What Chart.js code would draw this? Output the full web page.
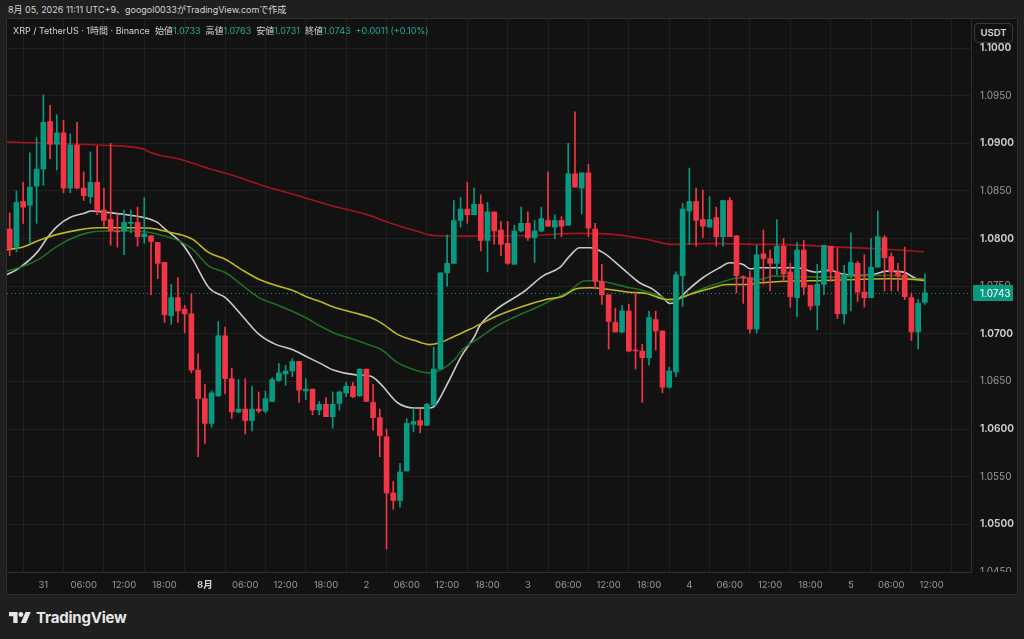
<!DOCTYPE html>
<html>
<head>
<meta charset="utf-8">
<script src="https://cdn.jsdelivr.net/npm/chart.js@4.4.1/dist/chart.umd.min.js"></script>
<style>
  html, body { margin: 0; padding: 0; background: #1f1f1f; width: 1024px; height: 639px; overflow: hidden;
    font-family: Inter, "Noto Sans CJK JP", sans-serif; }
  #credit { position: absolute; left: 8px; top: 3px; font-size: 9px; line-height: 14px; color: #d1d4dc; }
  #panel { position: absolute; left: 6px; top: 18px; width: 1010px; height: 575px; border: 1px solid #2e2e2e; background: #121212; }
  #c { position: absolute; left: 0; top: 0; }
  #legend { position: absolute; left: 6px; top: 5px; font-size: 9px; line-height: 14px; color: #d1d4dc; white-space: pre; }
  #legend .v { color: #22ab94; }
  #unit { position: absolute; left: 967px; top: 4px; width: 37px; height: 18px; border: 1px solid #3a3a3a; border-radius: 4px;
    font-size: 9.5px; font-weight: 600; color: #d1d4dc; text-align: center; line-height: 18px; background: #121212; }
  #brand { position: absolute; left: 9px; top: 606px; height: 22px; display: flex; align-items: center; }
  #brand span { margin-left: 5px; font-size: 15px; font-weight: 700; color: #e6e6e6; letter-spacing: -0.2px; }
</style>
</head>
<body>
<div id="credit">8月 05, 2026 11:11 UTC+9、googol0033がTradingView.comで作成</div>
<div id="panel">
  <canvas id="c" width="1010" height="575"></canvas>
  <div id="legend">XRP / TetherUS · 1時間 · Binance  始値<span class="v">1.0733</span>  高値<span class="v">1.0763</span>  安値<span class="v">1.0731</span>  終値<span class="v">1.0743</span>  <span class="v">+0.0011 (+0.10%)</span></div>
  <div id="unit">USDT</div>
</div>
<div id="brand">
  <svg width="22" height="11" viewBox="0 4 36 18"><path d="M14 22H7V11H0V4h14v18z" fill="#e6e6e6"/><circle cx="19.5" cy="8" r="4" fill="#e6e6e6"/><path d="M28 22h-8.5l7.5-18h8.5L28 22z" fill="#e6e6e6"/></svg>
  <span>TradingView</span>
</div>
<script>
// 1h candles, 30th 19:00 -> 5th 11:00
const opens = [1.0810,1.0791,1.0839,1.0835,1.0855,1.0873,1.0923,1.0899,1.0911,1.0853,1.0898,1.0853,1.0844,1.0859,1.0830,1.0820,1.0808,1.0808,1.0816,1.0817,
  1.0802,1.0803,1.0796,1.0775,1.0719,1.0738,1.0726,1.0721,1.0662,1.0632,1.0606,1.0635,1.0698,1.0653,1.0618,1.0621,1.0609,1.0621,1.0619,1.0629,
  1.0651,1.0658,1.0661,1.0671,1.0640,1.0642,1.0620,1.0626,1.0613,1.0627,1.0638,1.0645,1.0635,1.0663,1.0628,1.0612,1.0592,1.0533,1.0525,1.0556,
  1.0605,1.0609,1.0604,1.0625,1.0663,1.0764,1.0774,1.0819,1.0831,1.0825,1.0836,1.0798,1.0828,1.0809,1.0795,1.0773,1.0808,1.0816,1.0801,1.0808,
  1.0819,1.0812,1.0819,1.0814,1.0868,1.0853,1.0869,1.0810,1.0755,1.0741,1.0712,1.0702,1.0724,1.0683,1.0682,1.0675,1.0715,1.0703,1.0644,1.0660,
  1.0761,1.0829,1.0839,1.0820,1.0812,1.0822,1.0802,1.0840,1.0803,1.0760,1.0759,1.0705,1.0784,1.0779,1.0774,1.0792,1.0765,1.0738,1.0788,1.0751,
  1.0730,1.0752,1.0792,1.0765,1.0721,1.0761,1.0774,1.0744,1.0738,1.0770,1.0801,1.0781,1.0765,1.0762,1.0738,1.0702,1.0733];
const highs = [1.0827,1.0850,1.0859,1.0890,1.0906,1.0951,1.0940,1.0930,1.0924,1.0910,1.0922,1.0870,1.0891,1.0897,1.0853,1.0900,1.0826,1.0830,1.0830,1.0833,
  1.0843,1.0803,1.0796,1.0775,1.0752,1.0759,1.0730,1.0742,1.0679,1.0647,1.0640,1.0713,1.0707,1.0664,1.0652,1.0653,1.0645,1.0639,1.0640,1.0654,
  1.0669,1.0667,1.0674,1.0671,1.0653,1.0642,1.0629,1.0633,1.0639,1.0640,1.0649,1.0649,1.0663,1.0663,1.0647,1.0621,1.0600,1.0545,1.0564,1.0611,
  1.0622,1.0621,1.0627,1.0686,1.0764,1.0804,1.0840,1.0843,1.0859,1.0853,1.0846,1.0838,1.0828,1.0818,1.0818,1.0814,1.0833,1.0828,1.0819,1.0833,
  1.0870,1.0825,1.0823,1.0900,1.0933,1.0869,1.0878,1.0816,1.0773,1.0741,1.0727,1.0730,1.0731,1.0744,1.0689,1.0724,1.0724,1.0703,1.0665,1.0765,
  1.0837,1.0874,1.0853,1.0851,1.0844,1.0833,1.0840,1.0843,1.0803,1.0761,1.0766,1.0793,1.0809,1.0788,1.0820,1.0800,1.0774,1.0796,1.0798,1.0751,
  1.0773,1.0793,1.0792,1.0790,1.0772,1.0806,1.0776,1.0783,1.0800,1.0829,1.0803,1.0785,1.0774,1.0791,1.0743,1.0736,1.0763];
const lows = [1.0782,1.0786,1.0816,1.0795,1.0816,1.0856,1.0884,1.0872,1.0848,1.0848,1.0852,1.0840,1.0837,1.0825,1.0813,1.0793,1.0791,1.0783,1.0806,1.0792,
  1.0795,1.0741,1.0758,1.0712,1.0710,1.0712,1.0701,1.0659,1.0571,1.0585,1.0602,1.0634,1.0637,1.0611,1.0617,1.0595,1.0598,1.0617,1.0617,1.0629,
  1.0650,1.0646,1.0655,1.0628,1.0631,1.0615,1.0615,1.0613,1.0601,1.0620,1.0634,1.0633,1.0634,1.0629,1.0599,1.0571,1.0474,1.0516,1.0518,1.0556,
  1.0597,1.0596,1.0604,1.0625,1.0663,1.0750,1.0774,1.0812,1.0816,1.0825,1.0787,1.0765,1.0794,1.0782,1.0773,1.0773,1.0807,1.0798,1.0775,1.0807,
  1.0813,1.0800,1.0802,1.0814,1.0854,1.0826,1.0802,1.0748,1.0731,1.0684,1.0702,1.0701,1.0681,1.0663,1.0628,1.0667,1.0683,1.0638,1.0643,1.0655,
  1.0729,1.0794,1.0792,1.0801,1.0812,1.0792,1.0792,1.0802,1.0743,1.0732,1.0701,1.0701,1.0752,1.0745,1.0762,1.0755,1.0728,1.0718,1.0741,1.0725,
  1.0704,1.0741,1.0755,1.0716,1.0711,1.0724,1.0734,1.0728,1.0738,1.0770,1.0745,1.0745,1.0745,1.0736,1.0693,1.0684,1.0731];
const closes = [1.0790,1.0838,1.0833,1.0854,1.0873,1.0922,1.0899,1.0911,1.0853,1.0898,1.0853,1.0845,1.0859,1.0829,1.0819,1.0808,1.0807,1.0817,1.0817,1.0802,
  1.0805,1.0797,1.0774,1.0720,1.0738,1.0724,1.0721,1.0662,1.0632,1.0606,1.0638,1.0698,1.0653,1.0618,1.0621,1.0609,1.0621,1.0619,1.0632,1.0652,
  1.0659,1.0661,1.0671,1.0641,1.0642,1.0620,1.0626,1.0613,1.0626,1.0639,1.0645,1.0634,1.0663,1.0629,1.0612,1.0593,1.0533,1.0525,1.0555,1.0606,
  1.0608,1.0604,1.0626,1.0663,1.0764,1.0774,1.0819,1.0831,1.0825,1.0836,1.0798,1.0828,1.0808,1.0794,1.0774,1.0808,1.0816,1.0801,1.0808,1.0821,
  1.0813,1.0819,1.0813,1.0868,1.0854,1.0869,1.0811,1.0755,1.0741,1.0713,1.0702,1.0724,1.0682,1.0682,1.0675,1.0717,1.0703,1.0644,1.0661,1.0762,
  1.0831,1.0839,1.0819,1.0813,1.0820,1.0802,1.0840,1.0802,1.0761,1.0759,1.0705,1.0783,1.0779,1.0774,1.0792,1.0763,1.0739,1.0788,1.0749,1.0729,
  1.0752,1.0793,1.0765,1.0721,1.0762,1.0775,1.0744,1.0738,1.0770,1.0802,1.0780,1.0765,1.0761,1.0739,1.0702,1.0732,1.0743];

// moving averages, [candle index, price]
const maFast = [[-0.9,1.07606],[1.1,1.07676],[4.1,1.07858],[5.6,1.08009],[7.1,1.08131],[9.1,1.08226],[11.1,1.08265],[12.1,1.08289],[14.0,1.08279],
  [16.0,1.08262],[18.0,1.08244],[20.0,1.0822],[22.0,1.08167],[23.0,1.08104],[25.7,1.07939],[27.2,1.07781],[29.6,1.07484],[32.1,1.07378],[34.6,1.07185],
  [37.1,1.06992],[39.6,1.06887],[42.0,1.06835],[44.0,1.06764],[46.0,1.06695],[48.2,1.06617],[51.2,1.06572],[53.7,1.06554],[55.2,1.06467],[57.7,1.06274],
  [60.1,1.06222],[62.4,1.06222],[63.1,1.06238],[65.1,1.06484],[67.1,1.06764],[69.1,1.06975],[69.8,1.0708],[72.3,1.07255],[76.3,1.07437],[79.2,1.07606],
  [81.7,1.07694],[83.2,1.07816],[84.7,1.07904],[86.2,1.07904],[88.2,1.07852],[90.1,1.07746],[92.1,1.07623],[93.6,1.07536],[95.6,1.07466],[97.1,1.07378],
  [98.1,1.07318],[99.1,1.07343],[100.6,1.07448],[103.0,1.07589],[105.5,1.07694],[107.0,1.07746],[109.0,1.07729],[110.0,1.07683],[111.5,1.07694],
  [113.4,1.07694],[116.9,1.07694],[119.9,1.07648],[121.9,1.07669],[123.4,1.07634],[126.3,1.07613],[128.3,1.07623],[130.3,1.07658],[132.8,1.07648],
  [134.8,1.07578],[135.9,1.07571]];
const maMid = [[-0.9,1.07648],[2.1,1.07711],[4.1,1.07774],[7.1,1.07921],[9.1,1.07999],[12.1,1.08068],[15.0,1.08079],[19.0,1.08079],[21.0,1.08062],
  [23.0,1.08026],[25.2,1.07974],[27.2,1.07886],[29.6,1.07711],[32.1,1.07641],[34.6,1.07508],[37.1,1.07378],[39.6,1.07308],[42.0,1.07237],[44.5,1.0715],
  [46.0,1.07087],[48.2,1.0701],[51.2,1.0694],[53.7,1.06877],[55.2,1.06835],[57.7,1.06695],[60.1,1.06624],[62.4,1.0659],[64.1,1.06624],[66.1,1.0673],
  [67.3,1.06835],[69.8,1.06958],[72.3,1.0708],[75.3,1.07185],[78.7,1.0729],[81.2,1.07378],[83.2,1.07448],[85.2,1.07553],[86.7,1.0756],[88.7,1.07542],
  [92.1,1.07484],[93.6,1.07466],[96.6,1.07395],[98.1,1.07343],[99.6,1.07368],[102.0,1.07448],[105.5,1.07536],[108.5,1.07589],[111.5,1.07571],
  [113.4,1.07606],[118.4,1.07599],[123.4,1.07595],[128.3,1.07613],[131.3,1.07613],[134.3,1.07578],[135.9,1.07571]];
const maSlow = [[-0.9,1.07879],[2.1,1.07915],[4.1,1.07974],[7.1,1.08044],[10.1,1.08089],[13.0,1.08114],[16.0,1.08114],[19.0,1.08114],[21.5,1.08104],
  [23.0,1.08079],[25.2,1.08044],[27.2,1.07991],[29.6,1.07852],[32.1,1.07781],[34.6,1.07669],[37.1,1.07571],[39.6,1.07508],[42.0,1.07458],[44.5,1.07378],
  [46.0,1.07343],[48.2,1.0728],[51.2,1.07221],[53.7,1.07168],[55.2,1.07115],[57.7,1.06992],[60.1,1.06932],[62.4,1.06887],[64.1,1.06911],[66.1,1.06975],
  [68.3,1.07045],[72.3,1.07185],[76.3,1.0729],[79.7,1.0736],[82.2,1.07395],[84.2,1.07473],[86.2,1.07484],[89.1,1.07466],[92.1,1.07437],[94.6,1.07424],
  [97.6,1.0736],[99.1,1.07368],[101.5,1.07424],[104.5,1.07484],[106.5,1.07518],[109.5,1.07518],[111.5,1.07536],[115.9,1.07553],[120.9,1.0756],
  [125.8,1.07571],[130.8,1.07578],[134.3,1.07571],[135.9,1.0756]];
const maLong = [[-0.4,1.09015],[6.6,1.08998],[14.0,1.0898],[20.0,1.08938],[20.7,1.0891],[25.7,1.08825],[29.6,1.08735],[33.1,1.08664],[38.1,1.08546],
  [43.0,1.08447],[48.0,1.08342],[53.0,1.08254],[56.4,1.08167],[60.4,1.08079],[62.9,1.08033],[67.3,1.08026],[77.2,1.08033],[84.7,1.08055],[89.6,1.08044],
  [94.7,1.07991],[98.5,1.07939],[104.5,1.07949],[111.5,1.07939],[113.4,1.07939],[123.4,1.0791],[130.8,1.07886],[135.9,1.07862]];

const timeLabels = ['31','06:00','12:00','18:00','8月','06:00','12:00','18:00','2','06:00','12:00','18:00',
  '3','06:00','12:00','18:00','4','06:00','12:00','18:00','5','06:00','12:00'];
const priceTicks = [1.045,1.050,1.055,1.060,1.065,1.070,1.075,1.080,1.085,1.090,1.095,1.100];

const UP = '#089981', DOWN = '#f23645';
const tickPos = timeLabels.map((_, k) => 5 + 6 * k);   // label k sits on candle 5+6k
const colors = opens.map((o, i) => closes[i] >= o ? UP : DOWN);
const bodies = opens.map((o, i) => ({ x: i, y: [o, closes[i]] }));
const wicks = lows.map((l, i) => ({ x: i, y: [l, highs[i]] }));
const pts = arr => arr.map(p => ({ x: p[0], y: p[1] }));

function maLine(arr, color) {
  return { type: 'line', data: pts(arr), borderColor: color, borderWidth: 1.6, pointRadius: 0,
    cubicInterpolationMode: 'monotone', order: 1 };
}

const isMonth = c => !!(c.tick && c.tick.label === '8月');

// no extra room for the end labels, the pane runs to the panel edges
function noPad(s) {
  s.paddingTop = 0; s.paddingBottom = 0; s.paddingLeft = 0; s.paddingRight = 0;
}

// price labels (clipped to the pane like the original), dotted last-price line, teal price tag
const priceAxis = {
  id: 'priceAxis',
  beforeDatasetsDraw(chart) {
    const { ctx, chartArea, scales } = chart;
    const py = Math.round(scales.y.getPixelForValue(closes[closes.length - 1])) + 0.5;
    ctx.save();
    ctx.strokeStyle = '#089981';
    ctx.lineWidth = 1;
    ctx.setLineDash([1, 3]);
    ctx.beginPath();
    ctx.moveTo(chartArea.left, py);
    ctx.lineTo(chartArea.right, py);
    ctx.stroke();
    ctx.restore();
  },
  afterDraw(chart) {
    const { ctx, chartArea, scales } = chart;
    const lx = chartArea.right + 9;
    ctx.save();
    ctx.beginPath();
    ctx.rect(chartArea.right + 1, 0, 60, chartArea.bottom);
    ctx.clip();
    ctx.textBaseline = 'middle';
    priceTicks.forEach(v => {
      const major = Math.round(v * 1000) % 10 === 0;
      ctx.font = (major ? 'bold ' : '') + '10px Inter, sans-serif';
      ctx.fillStyle = major ? '#c8c8c8' : '#9a9a9a';
      ctx.fillText(v.toFixed(4), lx, scales.y.getPixelForValue(v));
    });
    ctx.restore();

    const last = closes[closes.length - 1];
    const py = Math.round(scales.y.getPixelForValue(last));
    ctx.save();
    ctx.fillStyle = UP;
    ctx.fillRect(chartArea.right + 2, py - 8, 40, 16);
    ctx.fillStyle = '#ffffff';
    ctx.font = '10px Inter, sans-serif';
    ctx.textBaseline = 'middle';
    ctx.fillText(last.toFixed(4), lx, py + 0.5);
    ctx.restore();
  }
};

new Chart(document.getElementById('c'), {
  type: 'bar',
  data: {
    datasets: [
      { data: bodies, backgroundColor: colors, barThickness: 5, minBarLength: 1, grouped: false, order: 0 },
      { data: wicks, backgroundColor: colors, barThickness: 1, grouped: false, order: 0 },
      maLine(maLong, '#a3141b'),
      maLine(maSlow, '#bdb81c'),
      maLine(maMid, '#1f6f22'),
      maLine(maFast, '#c9c9c9')
    ]
  },
  options: {
    responsive: false,
    animation: false,
    layout: { padding: 0 },
    plugins: { legend: { display: false }, tooltip: { enabled: false } },
    scales: {
      x: {
        type: 'linear', min: -0.4, max: 142.85, offset: false,
        grid: { color: 'rgba(255,255,255,0.055)', drawTicks: false },
        border: { display: true, color: '#2e2e2e' },
        afterBuildTicks: s => { s.ticks = tickPos.map(v => ({ value: v })); },
        afterFit: s => { s.height = 22; noPad(s); },
        ticks: {
          autoSkip: false, maxRotation: 0, padding: 7,
          callback: v => { const k = tickPos.indexOf(v); return k >= 0 ? timeLabels[k] : ''; },
          color: c => isMonth(c) ? '#d1d4dc' : '#9a9a9a',
          font: c => ({ family: 'Inter, "Noto Sans CJK JP", sans-serif', size: 9.5, weight: isMonth(c) ? 'bold' : 'normal' })
        }
      },
      y: {
        position: 'right', min: 1.0450, max: 1.10305,
        grid: { color: 'rgba(255,255,255,0.055)', drawTicks: false },
        border: { display: true, color: '#2e2e2e' },
        afterBuildTicks: s => { s.ticks = priceTicks.map(v => ({ value: v })); },
        afterFit: s => { s.width = 46; noPad(s); },
        ticks: { display: false }
      }
    }
  },
  plugins: [priceAxis]
});
</script>
</body>
</html>
